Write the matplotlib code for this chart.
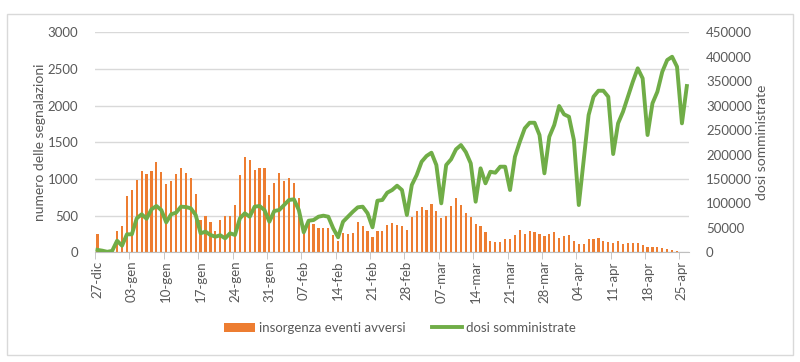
import numpy as np
import matplotlib
matplotlib.use('Agg')
import matplotlib.pyplot as plt
from matplotlib.patches import Rectangle
from matplotlib.ticker import FixedLocator

plt.rcParams['font.family'] = ['Lato', 'DejaVu Sans']

# Data: one value per day, 27-dic-2020 .. 26-apr-2021
segnalazioni = [250, 50, 5, 0, 290, 355, 768, 845, 982, 1114, 1073, 1109, 1232, 1100,
                936, 977, 1064, 1145, 1086, 1014, 791, 441, 495, 409, 291, 436, 500, 500,
                645, 1059, 1295, 1255, 1127, 1145, 1145, 782, 945, 1086, 973, 1014, 945, 741,
                359, 418, 391, 332, 332, 332, 241, 159, 259, 250, 268, 414, 364, 291,
                209, 291, 295, 368, 405, 373, 359, 305, 486, 564, 618, 577, 659, 568,
                473, 495, 632, 741, 645, 532, 486, 382, 359, 273, 155, 141, 136, 182,
                182, 241, 300, 250, 286, 273, 245, 227, 255, 277, 200, 223, 236, 155,
                114, 114, 177, 177, 200, 155, 145, 123, 150, 118, 123, 123, 123, 100,
                77, 77, 73, 60, 45, 32, 14, 5, 0]
dosi = [5000, 3300, 1000, 3000, 23700, 13500, 36800, 36800, 69500, 77700, 68700, 87900, 94700, 86500,
        61300, 77700, 81000, 93300, 92600, 90000, 76300, 38900, 42200, 35400, 31900, 34800, 28600, 38900,
        35400, 69500, 79800, 72800, 93300, 94700, 86500, 62600, 84500, 86500, 96700, 107000, 108400, 86500,
        40900, 64600, 66000, 72800, 74900, 72800, 49100, 30700, 62600, 72800, 83000, 92000, 93300, 79800,
        51100, 105500, 107000, 121900, 127400, 136200, 127400, 76300, 137600, 158100, 185300, 197000, 203700, 178500,
        100200, 178500, 190200, 210600, 219400, 205000, 182000, 103500, 171800, 141100, 164800, 162800, 175100, 175100,
        127400, 195500, 226200, 253600, 265000, 265000, 239900, 161600, 236400, 260300, 299200, 282200, 277300, 229700,
        96700, 188800, 280800, 318200, 330500, 330500, 318200, 201000, 263800, 287500, 318200, 348900, 376300, 355800,
        239900, 304700, 328400, 369300, 393300, 400000, 379600, 263800, 340100]
tick_labels = ['27-dic', '03-gen', '10-gen', '17-gen', '24-gen', '31-gen', '07-feb', '14-feb', '21-feb',
               '28-feb', '07-mar', '14-mar', '21-mar', '28-mar', '04-apr', '11-apr', '18-apr', '25-apr']

x = np.arange(len(segnalazioni))
grey = '#595959'

fig = plt.figure(figsize=(8, 3.62), dpi=100)
fig.patches.append(Rectangle((7/800, 1-355/362), 786/800, 341/362, transform=fig.transFigure,
                             fill=False, edgecolor='#d9d9d9', lw=1))
ax = fig.add_axes([95/800, 1-252.3/362, 594.3/800, 220/362])
ax2 = ax.twinx()

b = ax.bar(x, segnalazioni, width=0.45, color='#ED7D31', label='insorgenza eventi avversi', zorder=2)
l, = ax2.plot(x, dosi, color='#70AD47', lw=2.8, label='dosi somministrate', zorder=3)

ax.set_xlim(-0.5, len(x) - 0.5)
ax.set_ylim(0, 3000)
ax.set_yticks(range(0, 3001, 500))
ax2.set_ylim(0, 450000)
ax2.set_yticks(range(0, 450001, 50000))
ax.yaxis.grid(True, color='#d9d9d9', lw=1, zorder=0)
ax.set_axisbelow(True)

ax.set_xticks(x[::7])
ax.set_xticklabels(tick_labels, rotation=90)
ax.xaxis.set_minor_locator(FixedLocator(np.arange(-0.5, len(x), 7)))
ax.tick_params(axis='x', which='major', length=0, pad=6, labelsize=9.5, labelcolor=grey)
ax.tick_params(axis='x', which='minor', length=5, color='#bfbfbf')
ax.tick_params(axis='y', length=0, pad=12, labelsize=9.5, labelcolor=grey)
ax2.tick_params(axis='y', length=0, pad=12, labelsize=9.5, labelcolor=grey)

for a in (ax, ax2):
    for s in ['top', 'left', 'right']:
        a.spines[s].set_visible(False)
ax.spines['bottom'].set_color('#bfbfbf')
ax2.spines['bottom'].set_visible(False)

ax.set_ylabel('numero delle segnalazioni', fontsize=10, color=grey, labelpad=1)
ax2.set_ylabel('dosi somministrate', fontsize=10, color=grey, labelpad=3)

fig.legend([b, l], ['insorgenza eventi avversi', 'dosi somministrate'], loc='center',
           bbox_to_anchor=(0.5, 1-328/362), ncol=2, frameon=False, fontsize=9.5,
           labelcolor=grey, handlelength=2.3, handletextpad=0.3, columnspacing=2.0)

fig.savefig('out.png', dpi=100)
